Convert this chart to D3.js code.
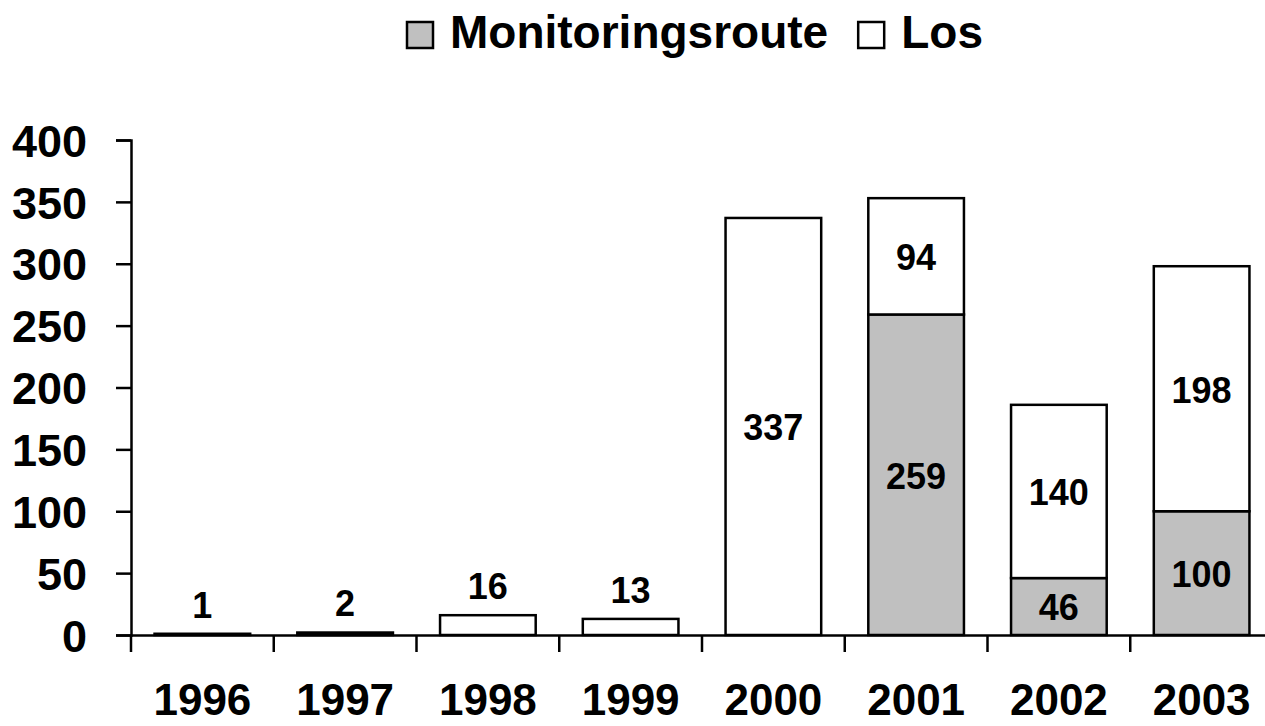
<!DOCTYPE html>
<html>
<head>
<meta charset="utf-8">
<script src="https://cdn.jsdelivr.net/npm/d3@7"></script>
<style>
  body { margin: 0; background: #fff; }
  text { font-family: "Liberation Sans", Arial, sans-serif; font-weight: bold; fill: #000; }
</style>
</head>
<body>
<div id="chart"></div>
<script>
const years = ["1996", "1997", "1998", "1999", "2000", "2001", "2002", "2003"];
const monitoring = [0, 0, 0, 0, 0, 259, 46, 100];
const los = [1, 2, 16, 13, 337, 94, 140, 198];
const yTicks = [0, 50, 100, 150, 200, 250, 300, 350, 400];
const seriesNames = ["Monitoringsroute", "Los"];
const seriesColors = ["#c0c0c0", "#ffffff"];

const width = 1265, height = 726;
const svg = d3.select("#chart").append("svg")
  .attr("width", width).attr("height", height);

const x = d3.scaleBand().domain(years).range([131, 1273]).paddingInner(0.33).paddingOuter(0.165);
const y = d3.scaleLinear().domain([0, 400]).range([635, 140]);

const rows = years.map((yr, i) => ({ year: yr, Monitoringsroute: monitoring[i], Los: los[i] }));
const stacked = d3.stack().keys(seriesNames)(rows);

// y axis
const yAxis = svg.append("g").attr("transform", "translate(131,0)")
  .call(d3.axisLeft(y).tickValues(yTicks).tickSize(15).tickFormat(d3.format("d")));
yAxis.select(".domain").attr("stroke", "#000").attr("stroke-width", 2.5);
yAxis.selectAll(".tick line").attr("stroke", "#000").attr("stroke-width", 2.5);
yAxis.selectAll(".tick text").attr("font-size", 45).attr("x", -44).attr("dy", "0.36em");

// x axis
const xAxis = svg.append("g").attr("transform", "translate(0,635)")
  .call(d3.axisBottom(x).tickSize(0).tickSizeOuter(0));
xAxis.select(".domain").attr("stroke", "#000").attr("stroke-width", 2.5);
xAxis.selectAll(".tick text").attr("font-size", 44).attr("y", 80).attr("dy", null);
// category separators
xAxis.selectAll(".sep").data(years).enter().append("line")
  .attr("x1", d => x(d) - x.step() * x.paddingInner() / 2)
  .attr("x2", d => x(d) - x.step() * x.paddingInner() / 2)
  .attr("y1", 0).attr("y2", 17)
  .attr("stroke", "#000").attr("stroke-width", 2.5);

// bars
stacked.forEach((layer, li) => {
  svg.append("g").selectAll("rect")
    .data(layer.filter(d => d[1] - d[0] > 0))
    .enter().append("rect")
    .attr("x", d => x(d.data.year))
    .attr("width", x.bandwidth())
    .attr("y", d => y(d[1]))
    .attr("height", d => y(d[0]) - y(d[1]))
    .attr("fill", seriesColors[li])
    .attr("stroke", "#000")
    .attr("stroke-width", 2.5);
});

// labels
stacked.forEach(layer => {
  svg.append("g").selectAll("text")
    .data(layer.filter(d => d[1] - d[0] > 0))
    .enter().append("text")
    .attr("x", d => x(d.data.year) + x.bandwidth() / 2)
    .attr("y", d => (d[1] - d[0]) < 30 ? y(d[1]) - 29 : (y(d[0]) + y(d[1])) / 2 + 1)
    .attr("dy", "0.36em")
    .attr("text-anchor", "middle")
    .attr("font-size", 36)
    .text(d => d[1] - d[0]);
});

// legend
const legend = svg.append("g");
let lx = 407;
seriesNames.forEach((name, i) => {
  legend.append("rect").attr("x", lx).attr("y", 22).attr("width", 26).attr("height", 26)
    .attr("fill", seriesColors[i]).attr("stroke", "#000").attr("stroke-width", 2.5);
  const t = legend.append("text").attr("x", lx + 43).attr("y", 48).attr("font-size", 46).text(name);
  lx = lx + 43 + t.node().getComputedTextLength() + 30;
});
</script>
</body>
</html>
